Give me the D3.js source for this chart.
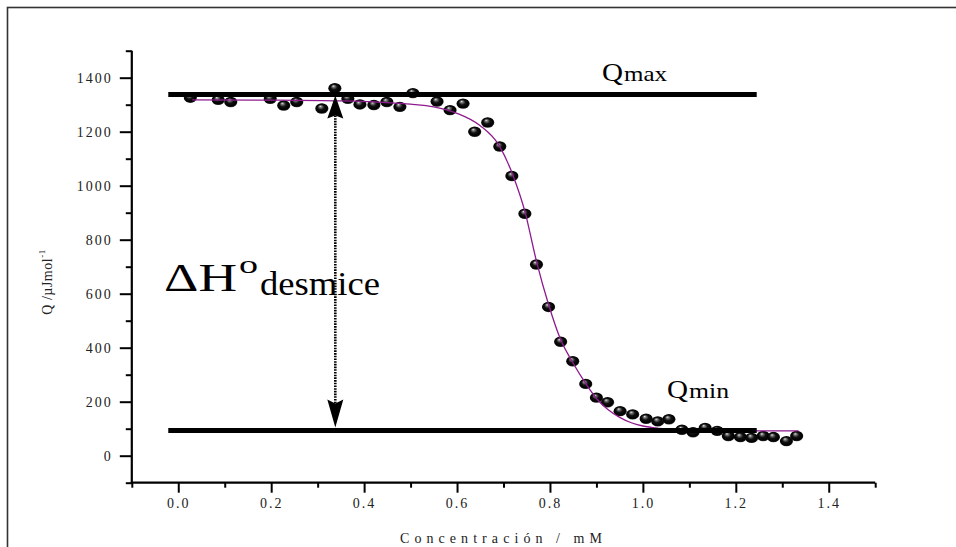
<!DOCTYPE html>
<html>
<script src="https://d3js.org/d3.v7.min.js"></script>
<style>
  body { margin: 0; background: #fff; }
  svg text { font-family: "Liberation Serif", "Times New Roman", serif; fill: #222; }
</style>
<body>
<div id="myPlot"></div>
<script>
  // measured points (concentration mM, Q)
  const concX = [0.026, 0.086, 0.113, 0.198, 0.227, 0.255, 0.309, 0.337, 0.365, 0.391,
    0.421, 0.449, 0.477, 0.505, 0.557, 0.585, 0.613, 0.638, 0.666, 0.692,
    0.718, 0.746, 0.771, 0.797, 0.823, 0.849, 0.877, 0.900, 0.924, 0.951,
    0.978, 1.007, 1.032, 1.056, 1.084, 1.108, 1.134, 1.160, 1.184, 1.210,
    1.234, 1.259, 1.281, 1.309, 1.331];
  const heatQ = [1326, 1318, 1310, 1322, 1297, 1310, 1286, 1361, 1322, 1301,
    1299, 1310, 1292, 1343, 1312, 1280, 1304, 1200, 1234, 1145,
    1036, 896, 708, 551, 422, 350, 266, 215, 198, 165,
    153, 137, 127, 135, 96, 87, 103, 92, 73, 69,
    66, 73, 69, 54, 73];

  // fitted curve
  const fitX = [0.03, 0.2, 0.35, 0.45, 0.5, 0.55, 0.6, 0.65, 0.69, 0.72, 0.746, 0.771,
    0.797, 0.823, 0.849, 0.879, 0.9, 0.924, 0.95, 0.975, 1.0, 1.036, 1.07, 1.12, 1.2, 1.335];
  const fitQ = [1318, 1317, 1314, 1308, 1302, 1292, 1268, 1222, 1150, 1040, 905, 720,
    560, 430, 345, 262, 212, 172, 142, 122, 110, 101, 96, 93, 92, 92];

  const qMax = 1338, qMin = 93;
  const levelFrom = -0.0215, levelTo = 1.245;
  const arrowAt = 0.338;

  const xMajor = [0.0, 0.2, 0.4, 0.6, 0.8, 1.0, 1.2, 1.4];
  const xMinor = [-0.1, 0.1, 0.3, 0.5, 0.7, 0.9, 1.1, 1.3, 1.5];
  const yMajor = [0, 200, 400, 600, 800, 1000, 1200, 1400];
  const yMinor = [-100, 100, 300, 500, 700, 900, 1100, 1300, 1500];

  const width = 956, height = 547;

  const x = d3.scaleLinear().domain([-0.1, 1.5]).range([131.8, 875.2]);
  const y = d3.scaleLinear().domain([-100, 1500]).range([482.7, 50.7]);

  const svg = d3.select("#myPlot")
    .append("svg")
    .attr("width", width)
    .attr("height", height);

  // outer frame (cut off on the right and bottom)
  svg.append("rect")
    .attr("x", 7.5).attr("y", 7.5)
    .attr("width", 1000).attr("height", 600)
    .attr("fill", "none")
    .attr("stroke", "#333")
    .attr("stroke-width", 1.6);

  const defs = svg.append("defs");
  const ball = defs.append("radialGradient")
    .attr("id", "ball")
    .attr("cx", "0.5").attr("cy", "0.5").attr("r", "0.55")
    .attr("fx", "0.38").attr("fy", "0.28");
  ball.selectAll("stop")
    .data([
      { o: 0, c: "#e8e8e8" },
      { o: 0.18, c: "#777" },
      { o: 0.45, c: "#111" },
      { o: 0.8, c: "#000" },
      { o: 1, c: "#444" }
    ])
    .join("stop")
    .attr("offset", d => d.o)
    .attr("stop-color", d => d.c);

  // axes
  const axisStyle = g => {
    g.attr("font-family", null);
    g.select(".domain").remove();
    g.selectAll("line").attr("stroke", "#000").attr("stroke-width", 2);
    g.selectAll("text")
      .attr("font-size", 14)
      .attr("letter-spacing", 2)
      .attr("fill", "#222");
  };

  svg.append("g")
    .attr("transform", `translate(${x(-0.1)},0)`)
    .call(d3.axisLeft(y).tickValues(yMinor).tickSize(6).tickFormat(""))
    .call(axisStyle);
  svg.append("g")
    .attr("transform", `translate(${x(-0.1)},0)`)
    .call(d3.axisLeft(y).tickValues(yMajor).tickSize(12).tickPadding(7).tickFormat(d3.format("d")))
    .call(axisStyle);

  svg.append("g")
    .attr("transform", `translate(0,${y(-100)})`)
    .call(d3.axisBottom(x).tickValues(xMinor).tickSize(5).tickFormat(""))
    .call(axisStyle);
  svg.append("g")
    .attr("transform", `translate(0,${y(-100)})`)
    .call(d3.axisBottom(x).tickValues(xMajor).tickSize(10).tickPadding(5).tickFormat(d3.format(".1f")))
    .call(axisStyle);

  svg.append("line")
    .attr("x1", x(-0.1)).attr("x2", x(-0.1))
    .attr("y1", y(1500)).attr("y2", y(-100) + 1)
    .attr("stroke", "#000").attr("stroke-width", 2.2);
  svg.append("line")
    .attr("x1", x(-0.1) - 1).attr("x2", x(1.5))
    .attr("y1", y(-100)).attr("y2", y(-100))
    .attr("stroke", "#000").attr("stroke-width", 2.2);

  // axis titles
  const yt = svg.append("text")
    .attr("transform", "translate(52,282) rotate(-90)")
    .attr("text-anchor", "middle")
    .attr("font-size", 14)
    .attr("letter-spacing", 0.5);
  yt.append("tspan").text("Q /µJmol");
  yt.append("tspan").attr("font-size", 9).attr("dy", -7).text("-1");

  svg.append("text")
    .attr("x", 400).attr("y", 543)
    .attr("font-size", 14)
    .attr("textLength", 202)
    .attr("lengthAdjust", "spacing")
    .text("Concentración / mM");

  // data points
  const pts = concX.map((c, i) => ({ c, q: heatQ[i] }));
  svg.append("g")
    .selectAll("ellipse")
    .data(pts)
    .join("ellipse")
    .attr("cx", d => x(d.c))
    .attr("cy", d => y(d.q))
    .attr("rx", 6.6)
    .attr("ry", 5.2)
    .attr("fill", "url(#ball)");

  // fitted curve
  const line = d3.line()
    .x(d => x(d[0]))
    .y(d => y(d[1]))
    .curve(d3.curveMonotoneX);
  svg.append("path")
    .datum(fitX.map((c, i) => [c, fitQ[i]]))
    .attr("fill", "none")
    .attr("stroke", "#8e1a8e")
    .attr("stroke-width", 1.3)
    .attr("d", line);

  // Qmax / Qmin levels
  [qMax, qMin].forEach(q => {
    svg.append("line")
      .attr("x1", x(levelFrom)).attr("x2", x(levelTo))
      .attr("y1", y(q)).attr("y2", y(q))
      .attr("stroke", "#000")
      .attr("stroke-width", 5);
  });

  // double arrow
  const ax = x(arrowAt);
  const yTop = y(qMax) + 1, yBot = y(qMin) - 3;
  svg.append("line")
    .attr("x1", ax).attr("x2", ax)
    .attr("y1", yTop + 20).attr("y2", yBot - 20)
    .attr("stroke", "#000")
    .attr("stroke-width", 2.6)
    .attr("stroke-dasharray", "1.6,1.1");
  svg.append("path")
    .attr("d", `M${ax},${yTop} L${ax + 8},${yTop + 23} L${ax},${yTop + 20} L${ax - 8},${yTop + 23} Z`)
    .attr("fill", "#000");
  svg.append("path")
    .attr("d", `M${ax},${yBot} L${ax + 8},${yBot - 28} L${ax},${yBot - 24} L${ax - 8},${yBot - 28} Z`)
    .attr("fill", "#000");

  // labels
  const label = (tx, ty, size, str, len) => {
    const t = svg.append("text")
      .attr("x", tx).attr("y", ty)
      .attr("font-size", size)
      .style("fill", "#000")
      .text(str);
    if (len) t.attr("textLength", len).attr("lengthAdjust", "spacingAndGlyphs");
    return t;
  };

  label(602, 81, 25, "Q", 21);
  label(624, 81, 21, "max", 43);
  label(667, 398, 25, "Q", 21);
  label(689, 398, 21, "min", 40);

  label(164, 291, 39, "ΔH", 73);
  label(239, 273, 26, "o", 19);
  label(260, 295, 34, "desmice", 120);
</script>
</body>
</html>
